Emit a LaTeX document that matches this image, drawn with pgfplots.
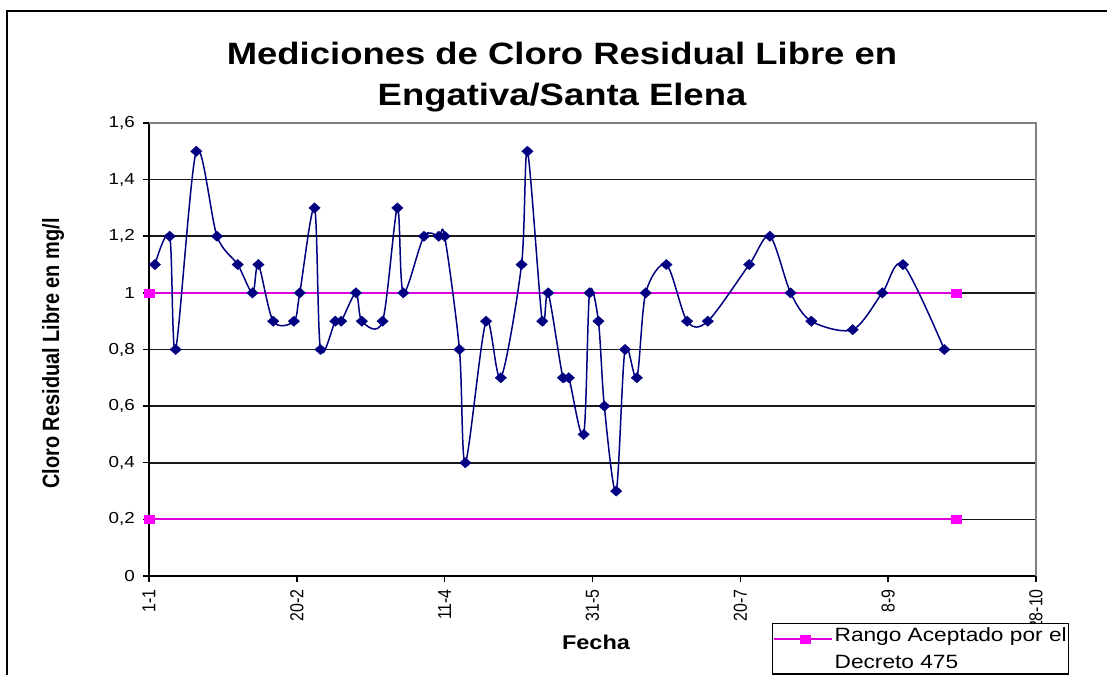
\documentclass[border=0pt]{standalone}
\usepackage{pgfplots}
\pgfplotsset{compat=1.18}
\usepackage{graphicx}
\usepackage{fontspec}
\setmainfont{Liberation Sans}[FakeStretch=1.18]
\newfontfamily\rotfont{Liberation Sans}
\definecolor{navy}{RGB}{0,0,128}
\definecolor{pinkline}{RGB}{220,0,220}
\definecolor{pinkmark}{RGB}{255,0,255}
\definecolor{bordergray}{RGB}{128,128,128}
\newcommand{\rt}[1]{\scalebox{1}[1.18]{\rotfont\fontsize{16}{16}\selectfont #1}}

\pgfplotstableread{
day val
2 1.1
7 1.2
9 0.8
16 1.5
23 1.2
30 1.1
35 1.0
37 1.1
42 0.9
49 0.9
51 1.0
56 1.3
58 0.8
63 0.9
65 0.9
70 1.0
72 0.9
79 0.9
84 1.3
86 1.0
93 1.2
98 1.2
100 1.2
105 0.8
107 0.4
114 0.9
119 0.7
126 1.1
128 1.5
133 0.9
135 1.0
140 0.7
142 0.7
147 0.5
149 1.0
152 0.9
154 0.6
158 0.3
161 0.8
165 0.7
168 1.0
175 1.1
182 0.9
189 0.9
203 1.1
210 1.2
217 1.0
224 0.9
238 0.87
248 1.0
255 1.1
269 0.8
}\cloro

\begin{document}
\begin{tikzpicture}[x=1bp,y=1bp]
\begin{axis}[
  at={(149bp,99bp)}, anchor=south west,
  scale only axis, width=887bp, height=453bp,
  xmin=0, xmax=300, ymin=0, ymax=1.6,
  xtick={0,50,100,150,200,250,300},
  xticklabels={\rt{1-1},\rt{20-2},\rt{11-4},\rt{31-5},\rt{20-7},\rt{8-9},\rt{28-10}},
  ytick={0,0.2,0.4,0.6,0.8,1,1.2,1.4,1.6},
  xtick pos=left, ytick pos=left,
  ymajorgrids, grid style={black!90, line width=1.6bp},
  axis line style={black, line width=1.6bp},
  tick style={black, line width=1.5bp},
  tick align=outside, major tick length=6bp,
  x tick label style={rotate=90, anchor=east, inner xsep=7bp, inner ysep=2bp},
  y tick label style={font=\fontsize{16}{16}\selectfont, inner xsep=8bp, inner ysep=2bp},
  /pgf/number format/use comma,
  /pgf/number format/fixed,
  /pgf/number format/precision=1,
  /pgf/number format/assume math mode=true,
  clip=false,
  legend style={at={(0.7024,-0.1038)}, anchor=north west, draw=black, line width=1.2bp,
    font=\fontsize{19.3}{24}\selectfont, cells={align=left}, inner xsep=0bp, inner ysep=2bp},
  legend cell align=left,
  legend image code/.code={
    \path (-8bp,10bp) -- (50bp,10bp);
    \draw[mark repeat=2,mark phase=2,#1] plot coordinates {(0bp,10bp) (23.5bp,10bp) (47bp,10bp)};
  },
]
\addplot[color=pinkline, line width=2bp, mark=square*,
  mark options={fill=pinkmark, draw=pinkmark, xscale=1.2, line width=0.3bp}, mark size=4]
  coordinates {(0,1) (273,1)};
\addlegendentry{Rango Aceptado por el\\[3bp]Decreto 475}
\addplot[color=pinkline, line width=2bp, mark=square*,
  mark options={fill=pinkmark, draw=pinkmark, xscale=1.2, line width=0.3bp}, mark size=4, forget plot]
  coordinates {(0,0.2) (273,0.2)};
\addplot[color=navy, line width=1.5bp, smooth, mark=square*,
  mark options={fill=navy, draw=navy, xscale=1.1, rotate=45, line width=0.3bp}, mark size=3.7, forget plot]
  table[x=day, y=val] {\cloro};
\draw[bordergray, line width=2bp] (rel axis cs:0,1) -- (rel axis cs:1,1) -- (rel axis cs:1,0);
\end{axis}
% outer chart frame
\draw[black, line width=1.5bp] (7bp,-30bp) -- (7bp,664bp) -- (1140bp,664bp);
% title
\node[anchor=base, font=\bfseries\fontsize{31}{31}\selectfont, inner sep=0pt] at (562bp,610bp) {Mediciones de Cloro Residual Libre en};
\node[anchor=base, font=\bfseries\fontsize{31}{31}\selectfont, inner sep=0pt] at (562bp,569bp) {Engativa/Santa Elena};
% axis labels
\node[anchor=base, font=\bfseries\fontsize{20}{20}\selectfont, inner sep=0pt] at (596bp,26bp) {Fecha};
\node[rotate=90, anchor=base, inner sep=0pt] at (59bp,321.5bp) {\scalebox{1}[1.18]{\rotfont\bfseries\fontsize{20}{20}\selectfont Cloro Residual Libre en mg/l}};
\pgfresetboundingbox
\path[use as bounding box] (0bp,0bp) rectangle (1107bp,675bp);
\end{tikzpicture}
\end{document}
